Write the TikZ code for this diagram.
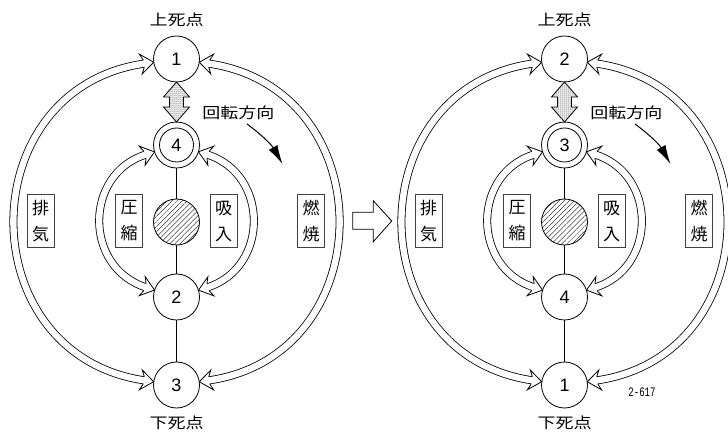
\documentclass[tikz,border=0pt]{standalone}
\usepackage{fontspec}
\newfontfamily\jp{Noto Sans CJK JP}
\newfontfamily\dg{Liberation Sans}
\newfontfamily\mn{Liberation Mono}
\usetikzlibrary{decorations.markings,patterns,patterns.meta,arrows.meta}
\newcommand\wide[1]{\scalebox{1.2}[1]{#1}}
\tikzset{
  num/.style={circle,draw,line width=0.8pt,minimum size=46pt,inner sep=0pt,outer sep=0pt,font=\dg\fontsize{18}{18}\selectfont},
  ttl/.style={inner sep=0pt,font=\jp\fontsize{15}{15}\selectfont},
  lbl/.style={draw=black!75,line width=0.5pt,minimum width=27pt,minimum height=53pt,inner sep=0pt,align=center,font=\jp\fontsize{17}{26}\selectfont},
  hatchc/.style={circle,draw,line width=0.8pt,minimum size=46pt,inner sep=0pt,outer sep=0pt,pattern={Lines[angle=45,distance=3.6pt,line width=0.35pt]}},
  shaft/.style={draw=black,line width=0.8pt,double=white,double distance=6.4pt,shorten <=9pt,shorten >=9pt},
  headdraw/.style={fill=white,draw=black,line width=0.8pt,line join=miter},
  starthead/.style={decorate,decoration={markings,
     mark=at position 0.0001 with {\filldraw[headdraw] (10pt,3.6pt) -- (13pt,10pt) -- (0pt,0pt) -- (13pt,-10pt) -- (10pt,-3.6pt);}}},
  stem/.style={line width=0.8pt},
  dotarrow/.style={draw,line width=0.8pt,line join=miter,pattern={Dots[distance=2pt,radius=0.5pt]}},
  rot/.style={line width=1pt,-{Latex[length=19pt,width=10pt]}},
  bigarrow/.style={draw,line width=0.8pt,line join=miter,fill=white},
}
% #1 start node, #2 end node, #3 out, #4 in, #5 control distance
\newcommand\hollowarc[5]{%
  \draw[shaft] (#1) to[out=#3,in=#4,distance=#5] (#2);
  \path[starthead] (#1) to[out=#3,in=#4,distance=#5] (#2);
  \path[starthead] (#2) to[out=#4,in=#3,distance=#5] (#1);}
\begin{document}
\begin{tikzpicture}[x=1pt,y=1pt]
\useasboundingbox (0,0) rectangle (728,434);
% ---------- left diagram ----------
\node[num] (n1) at (176.5,375) {1};
\node[num] (n4) at (176.5,289) {4};
\draw[stem] (n4.center) circle[radius=17pt];
\node[hatchc] (hc) at (176.5,212) {};
\node[num] (n2) at (176.5,137) {2};
\node[num] (n3) at (176.5,49) {3};
\draw[stem] (n4) -- (hc) (hc) -- (n2) (n2) -- (n3);
\node[ttl] (t1) at (176.5,414) {\wide{上死点}};
\node[ttl] (b1) at (176.5,11) {\wide{下死点}};
\node[ttl] (r1) at (238.3,321) {\wide{回転方向}};
\draw[dotarrow] (n1.south) -- ++(13,-15) -- ++(-6,0) -- ++(0,-10) -- ++(6,0) -- (n4.north) -- ++(-13,15) -- ++(6,0) -- ++(0,10) -- ++(-6,0) -- cycle;
\hollowarc{n3}{n1}{171.9}{188.1}{186pt}
\hollowarc{n3}{n1}{8.1}{-8.1}{186pt}
\hollowarc{n2}{n4}{162.6}{197.4}{74.4pt}
\hollowarc{n2}{n4}{17.4}{-17.4}{74.4pt}
\node[lbl] (e1) at (40.7,213) {排\\気};
\node[lbl] (c1) at (129,213) {圧\\縮};
\node[lbl] (i1) at (223.5,213) {吸\\入};
\node[lbl] (f1) at (311,213) {燃\\焼};
\coordinate (rs1) at (247,310);
\coordinate (re1) at (282.5,270);
\draw[rot] (rs1) to[bend left=12] (re1);
% ---------- middle arrow ----------
\draw[bigarrow] (352.7,221.7) -- (373.3,221.7) -- (373.3,233.3) -- (391.7,213) -- (373.3,192.3) -- (373.3,204.7) -- (352.7,204.7) -- cycle;
% ---------- right diagram ----------
\node[num] (m2) at (564.5,375) {2};
\node[num] (m3) at (564.5,289) {3};
\draw[stem] (m3.center) circle[radius=17pt];
\node[hatchc] (mh) at (564.5,212) {};
\node[num] (m4) at (564.5,137) {4};
\node[num] (m1) at (564.5,49) {1};
\draw[stem] (m3) -- (mh) (mh) -- (m4) (m4) -- (m1);
\node[ttl] (t2) at (564.5,414) {\wide{上死点}};
\node[ttl] (b2) at (564.5,11) {\wide{下死点}};
\node[ttl] (r2) at (626.3,321) {\wide{回転方向}};
\draw[dotarrow] (m2.south) -- ++(13,-15) -- ++(-6,0) -- ++(0,-10) -- ++(6,0) -- (m3.north) -- ++(-13,15) -- ++(6,0) -- ++(0,10) -- ++(-6,0) -- cycle;
\hollowarc{m1}{m2}{171.9}{188.1}{186pt}
\hollowarc{m1}{m2}{8.1}{-8.1}{186pt}
\hollowarc{m4}{m3}{162.6}{197.4}{74.4pt}
\hollowarc{m4}{m3}{17.4}{-17.4}{74.4pt}
\node[lbl] (e2) at (428.7,213) {排\\気};
\node[lbl] (c2) at (517,213) {圧\\縮};
\node[lbl] (i2) at (611.5,213) {吸\\入};
\node[lbl] (f2) at (699,213) {燃\\焼};
\coordinate (rs2) at (635,310);
\coordinate (re2) at (670.5,270);
\draw[rot] (rs2) to[bend left=12] (re2);
\node[inner sep=0pt,font=\mn\fontsize{13}{13}\selectfont] (code) at (642,42) {\scalebox{0.7}[1]{2-617}};
\end{tikzpicture}
\end{document}
